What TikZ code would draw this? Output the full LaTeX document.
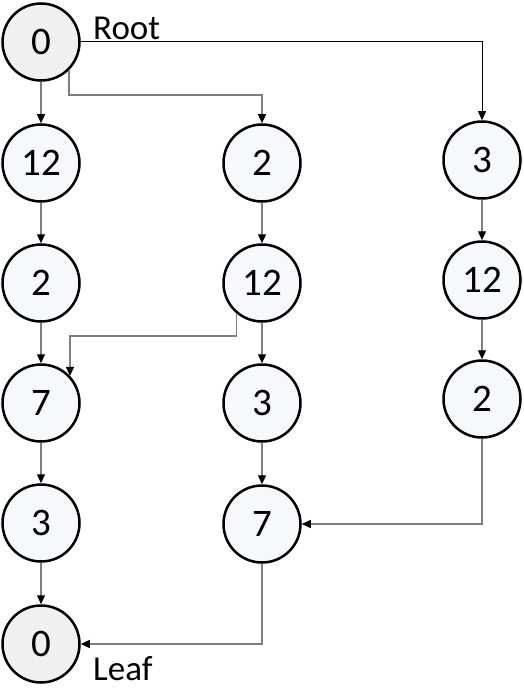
\documentclass[tikz,border=0pt]{standalone}
\usepackage{fontspec}
\setmainfont{Carlito}
\usetikzlibrary{arrows.meta}
\definecolor{nodefill}{HTML}{F7F8FC}
\definecolor{endfill}{HTML}{F0F0F0}
\definecolor{conngray}{HTML}{7F7F7F}
\tikzset{
  vnode/.style={circle, draw=black, line width=2.5bp, fill=nodefill, minimum size=77bp, inner sep=0pt, font=\fontsize{39bp}{44bp}\selectfont},
  endnode/.style={vnode, fill=endfill},
  conn/.style={draw=conngray, line width=1.3bp, -{Triangle[length=9bp,width=8bp,color=black]}},
  lbl/.style={anchor=base west, inner sep=0pt, font=\fontsize{35bp}{40bp}\selectfont}
}
\begin{document}
\begin{tikzpicture}[x=1bp,y=-1bp]
\useasboundingbox (0,0) rectangle (524,689);
% column 1
\node[endnode] (r)  at (41,42)  {0};
\node[vnode]   (a1) at (41,163) {12};
\node[vnode]   (a2) at (41,283) {2};
\node[vnode]   (a3) at (41,403) {7};
\node[vnode]   (a4) at (41,523) {3};
\node[endnode] (l)  at (41,644) {0};
% column 2
\node[vnode] (b1) at (262,163) {2};
\node[vnode] (b2) at (262,283) {12};
\node[vnode] (b3) at (262,403) {3};
\node[vnode] (b4) at (262,524) {7};
% column 3
\node[vnode] (c1) at (482,160) {3};
\node[vnode] (c2) at (482,280) {12};
\node[vnode] (c3) at (482,399) {2};
% labels
\node[lbl] (rootlbl) at (93,40) {Root};
\node[lbl] (leaflbl) at (93,680) {Leaf};
% helper coordinates
\coordinate (k1) at (262,95);
\coordinate (k2) at (70,336);
% connectors
\draw[conn] (r) -- (a1);
\draw[conn] (r.-45) |- (k1) -- (b1);
\draw[conn, draw=black, line width=1bp] (r.east) -| (c1.north);
\draw[conn] (a1) -- (a2);
\draw[conn] (a2) -- (a3);
\draw[conn] (a3) -- (a4);
\draw[conn] (a4) -- (l);
\draw[conn] (b1) -- (b2);
\draw[conn] (b2) -- (b3);
\draw[conn] (b3) -- (b4);
\draw[conn] (b2.-130) |- (k2) -- (k2 |- a3.43);
\draw[conn] (c1) -- (c2);
\draw[conn] (c2) -- (c3);
\draw[conn] (c3.south) |- (b4.east);
\draw[conn] (b4.south) |- (l.east);
\end{tikzpicture}
\end{document}
